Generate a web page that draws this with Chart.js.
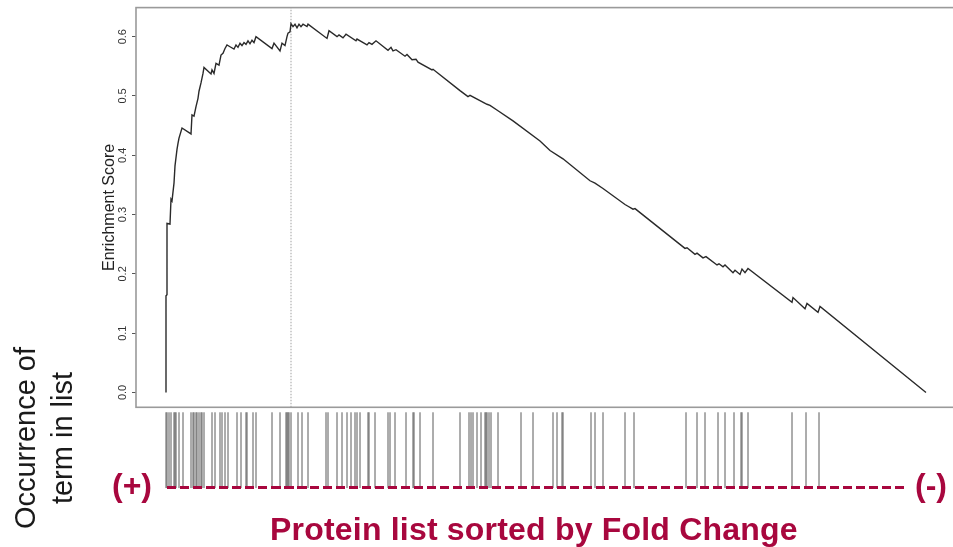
<!DOCTYPE html>
<html>
<head>
<meta charset="utf-8">
<title>Enrichment plot</title>
<script src="https://cdn.jsdelivr.net/npm/chart.js@4.4.1/dist/chart.umd.min.js"></script>
<style>
  html, body { margin: 0; padding: 0; background: #fff; }
  #wrap { position: relative; width: 953px; height: 547px; overflow: hidden; }
  #chart-box { position: absolute; left: 0; top: 0; width: 953px; height: 547px; }
  .note { position: absolute; white-space: nowrap; font-family: "Liberation Sans", Arial, sans-serif; }
  .crimson { color: #a8073e; font-weight: 700; font-size: 32px; line-height: 32px; }
  #occurrence {
    left: -76px; top: 401px; width: 240px; height: 74px;
    font-size: 29px; line-height: 37px; color: #1a1a1a; text-align: center;
    transform: rotate(-90deg);
  }
  #dash-line {
    position: absolute; left: 167px; top: 486px; width: 738px; height: 3px;
    background: repeating-linear-gradient(90deg, #a8073e 0 9.5px, transparent 9.5px 13px);
  }
</style>
</head>
<body>
<div id="wrap">
  <div id="chart-box"><canvas id="esChart"></canvas></div>
  <div id="dash-line"></div>
  <div class="note crimson" style="left:112px; top:469px;">(+)</div>
  <div class="note crimson" style="left:915px; top:469px;">(-)</div>
  <div class="note crimson" style="left:270px; top:513px; letter-spacing:0.2px;">Protein list sorted by Fold Change</div>
  <div class="note" id="occurrence">Occurrence of<br>term in list</div>
</div>
<script>
/* =================================================================
   Running enrichment score + hit rug
   ================================================================= */

// Rank in the sorted list (0 = top of list) for each vertex of the ES curve
const esRank = [
  0, 0, 1, 1, 4, 5, 6, 8, 9, 11, 12, 13, 16, 25, 26, 28, 30, 32, 33, 35,
  37, 38, 45, 46, 48, 50, 53, 55, 57, 59, 61, 64, 68, 70, 72, 74, 76, 78, 80, 82,
  84, 86, 88, 90, 106, 108, 114, 116, 119, 121, 122, 124, 125, 127, 129, 131, 133, 135, 137, 141,
  142, 161, 163, 171, 173, 177, 180, 190, 191, 195, 201, 203, 206, 210, 222, 225, 227, 230, 239, 241,
  246, 250, 252, 266, 267, 294, 302, 304, 321, 324, 332, 347, 374, 384, 397, 424, 429, 437, 459, 462,
  467, 469, 519, 521, 529, 531, 537, 540, 551, 553, 557, 559, 567, 569, 574, 576, 579, 582, 626, 627,
  639, 641, 652, 654, 760
];

// Enrichment score at each vertex
const esScore = [
  0.000, 0.163, 0.165, 0.285, 0.284, 0.326, 0.323, 0.353, 0.382, 0.410, 0.420, 0.429, 0.446, 0.436, 0.468, 0.466, 0.482, 0.496, 0.508, 0.522,
  0.538, 0.548, 0.537, 0.544, 0.538, 0.555, 0.552, 0.569, 0.572, 0.580, 0.586, 0.583, 0.579, 0.586, 0.582, 0.589, 0.585, 0.590, 0.587, 0.593,
  0.588, 0.594, 0.590, 0.600, 0.580, 0.589, 0.576, 0.589, 0.585, 0.600, 0.606, 0.608, 0.622, 0.617, 0.621, 0.615, 0.621, 0.617, 0.621, 0.617,
  0.621, 0.597, 0.610, 0.600, 0.603, 0.598, 0.604, 0.593, 0.596, 0.592, 0.586, 0.590, 0.587, 0.593, 0.577, 0.582, 0.576, 0.578, 0.567, 0.570,
  0.561, 0.562, 0.557, 0.544, 0.545, 0.509, 0.499, 0.501, 0.486, 0.484, 0.475, 0.458, 0.424, 0.408, 0.394, 0.357, 0.353, 0.344, 0.317, 0.314,
  0.309, 0.310, 0.243, 0.244, 0.233, 0.235, 0.227, 0.229, 0.215, 0.217, 0.212, 0.215, 0.202, 0.206, 0.199, 0.208, 0.202, 0.209, 0.152, 0.160,
  0.141, 0.150, 0.135, 0.145, 0.000
];

// Ranks of the proteins carrying the term (the rug below the curve)
const hitRanks = [
  0, 1, 3, 5, 8, 9, 10, 13, 17, 25, 27, 28, 30, 31, 33, 35, 36, 38, 46, 49,
  54, 56, 59, 62, 71, 75, 80, 81, 87, 90, 106, 114, 120, 121, 122, 123, 125, 132, 136, 142,
  160, 162, 171, 176, 181, 185, 189, 191, 194, 202, 203, 209, 222, 224, 229, 240, 247, 248, 254, 267,
  294, 303, 305, 307, 311, 315, 319, 320, 321, 323, 325, 332, 355, 367, 387, 391, 396, 397, 425, 429,
  437, 459, 468, 520, 531, 539, 552, 559, 568, 575, 576, 582, 626, 640, 653
];

// Position of the maximum deviation (dotted line)
const peakRank = 125;

// Y axis tick values
const yTickValues = [0, 0.1, 0.2, 0.3, 0.4, 0.5, 0.6];

// Axis limits (R style 4% padding)
const X_MIN = -30;
const X_MAX = 787;
const Y_MIN = -0.025;
const Y_MAX = 0.649;

const AXIS_FONT = 'Liberation Sans, Arial, sans-serif';

const esPoints = esRank.map((r, i) => ({ x: r, y: esScore[i] }));

// each hit is a separate vertical segment, broken by a null point
const rugPoints = [];
hitRanks.forEach(h => {
  rugPoints.push({ x: h, y: 0 }, { x: h, y: 1 }, { x: h, y: null });
});

// Box around the ES panel (right edge falls off the canvas)
const framePlugin = {
  id: 'esFrame',
  beforeDatasetsDraw(chart) {
    const { ctx, chartArea } = chart;
    const y = chart.scales.y;
    ctx.save();
    ctx.strokeStyle = '#9a9a9a';
    ctx.lineWidth = 1.6;
    ctx.strokeRect(chartArea.left, y.top, chartArea.right - chartArea.left + 10, y.bottom - y.top);
    ctx.restore();
  }
};

function fixWidth(scale) {
  scale.width = 136;
}

new Chart(document.getElementById('esChart').getContext('2d'), {
  type: 'line',
  data: {
    datasets: [
      {
        label: 'Enrichment score',
        data: esPoints,
        yAxisID: 'y',
        borderColor: '#2a2a2a',
        borderWidth: 1.4,
        pointRadius: 0,
        tension: 0,
        fill: false
      },
      {
        label: 'Peak',
        data: [{ x: peakRank, y: Y_MIN }, { x: peakRank, y: Y_MAX }],
        yAxisID: 'y',
        borderColor: '#a0a0a0',
        borderWidth: 1,
        borderDash: [1.5, 1.5],
        pointRadius: 0
      },
      {
        label: 'Hits',
        data: rugPoints,
        yAxisID: 'yRug',
        borderColor: '#5a5a5a',
        borderWidth: 1,
        pointRadius: 0,
        spanGaps: false
      }
    ]
  },
  options: {
    responsive: true,
    maintainAspectRatio: false,
    animation: false,
    layout: { padding: { top: 6, bottom: 50, left: 0, right: 0 } },
    plugins: {
      legend: { display: false },
      tooltip: { enabled: false }
    },
    scales: {
      x: {
        type: 'linear',
        min: X_MIN,
        max: X_MAX,
        display: false
      },
      y: {
        type: 'linear',
        position: 'left',
        stack: 'gsea',
        stackWeight: 401,
        weight: 1,
        min: Y_MIN,
        max: Y_MAX,
        afterBuildTicks(scale) {
          scale.ticks = yTickValues.map(v => ({ value: v }));
        },
        afterFit: fixWidth,
        grid: {
          display: true,
          drawOnChartArea: false,
          drawTicks: true,
          tickLength: 4,
          color: '#555'
        },
        border: { display: false },
        ticks: {
          minRotation: 90,
          maxRotation: 90,
          crossAlign: 'center',
          padding: 1,
          color: '#333',
          font: { family: AXIS_FONT, size: 11 },
          callback: v => v.toFixed(1)
        },
        title: {
          display: true,
          text: 'Enrichment Score',
          color: '#222',
          font: { family: AXIS_FONT, size: 16 },
          padding: { top: 100, bottom: 0 }
        }
      },
      yRug: {
        type: 'linear',
        position: 'left',
        stack: 'gsea',
        stackWeight: 90,
        weight: 0,
        min: -0.118,
        max: 1.066,
        afterFit: fixWidth,
        grid: { display: false },
        border: { display: false },
        ticks: { display: false }
      }
    }
  },
  plugins: [framePlugin]
});
</script>
</body>
</html>
